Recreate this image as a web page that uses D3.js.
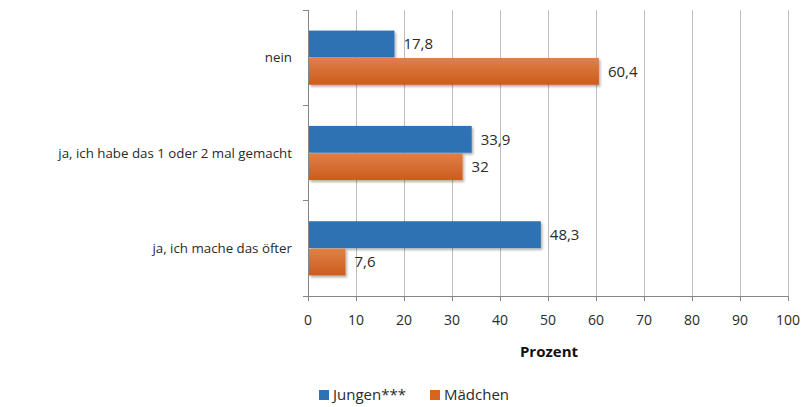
<!DOCTYPE html>
<html>
<head>
<meta charset="utf-8">
<script src="https://cdn.jsdelivr.net/npm/d3@7"></script>
<style>
  body { margin: 0; background: #fff; }
  text { font-family: "Open Sans", sans-serif; fill: #2a2a2a; }
</style>
</head>
<body>
<svg width="809" height="407"></svg>
<script>
const categories = ['nein', 'ja, ich habe das 1 oder 2 mal gemacht', 'ja, ich mache das öfter'];
const seriesNames = ['Jungen***', 'Mädchen'];
const jungen = [17.8, 33.9, 48.3];
const maedchen = [60.4, 32, 7.6];
const xTicks = [0, 10, 20, 30, 40, 50, 60, 70, 80, 90, 100];
const colors = ['#2e72b3', '#d7641f'];

const svg = d3.select('svg');
const plotL = 308, plotR = 788, plotT = 10, plotB = 296;

const x = d3.scaleLinear().domain([0, 100]).range([plotL, plotR]);
const y = d3.scaleBand().domain(categories).range([plotT, plotB]).paddingInner(0.42).paddingOuter(0.21);
const ySub = d3.scaleBand().domain(seriesNames).range([0, y.bandwidth()]).padding(0.02);

const defs = svg.append('defs');
const og = defs.append('linearGradient').attr('id', 'og').attr('x1', 0).attr('y1', 0).attr('x2', 0).attr('y2', 1);
og.append('stop').attr('offset', '0%').attr('stop-color', '#e07f48');
og.append('stop').attr('offset', '100%').attr('stop-color', '#cc5c1c');
const shadow = defs.append('filter').attr('id', 'sh').attr('x', '-5%').attr('y', '-20%').attr('width', '115%').attr('height', '150%');
shadow.append('feDropShadow').attr('dx', 1.5).attr('dy', 2).attr('stdDeviation', 1.2).attr('flood-color', '#000').attr('flood-opacity', 0.3);

// gridlines
svg.append('g')
    .selectAll('line')
    .data(xTicks.slice(1))
    .enter()
    .append('line')
    .attr('x1', d => x(d)).attr('x2', d => x(d))
    .attr('y1', plotT).attr('y2', plotB)
    .attr('stroke', '#bdbdbd').attr('stroke-width', 1)
    .attr('shape-rendering', 'crispEdges');

// bars
const rows = categories.map((c, i) => ({ cat: c, values: [jungen[i], maedchen[i]] }));
const groups = svg.append('g')
    .selectAll('g')
    .data(rows)
    .enter()
    .append('g')
    .attr('transform', d => `translate(0,${y(d.cat)})`);

groups.selectAll('rect')
    .data(d => d.values.map((v, j) => ({ name: seriesNames[j], value: v, j })))
    .enter()
    .append('rect')
    .attr('x', x(0) + 1)
    .attr('y', d => ySub(d.name))
    .attr('width', d => x(d.value) - x(0))
    .attr('height', ySub.bandwidth())
    .attr('fill', d => d.j === 0 ? colors[0] : 'url(#og)')
    .attr('filter', 'url(#sh)');

groups.selectAll('text.val')
    .data(d => d.values.map((v, j) => ({ name: seriesNames[j], value: v })))
    .enter()
    .append('text')
    .attr('class', 'val')
    .attr('x', d => x(d.value) + 10)
    .attr('y', d => ySub(d.name) + ySub.bandwidth() / 2)
    .attr('dy', '0.35em')
    .style('font-size', '15px')
    .text(d => String(d.value).replace('.', ','));

// axes
const axisColor = '#868686';
svg.append('line')
    .attr('x1', plotL).attr('x2', plotL).attr('y1', plotT).attr('y2', plotB)
    .attr('stroke', axisColor).attr('shape-rendering', 'crispEdges');
svg.append('line')
    .attr('x1', plotL).attr('x2', plotR).attr('y1', plotB).attr('y2', plotB)
    .attr('stroke', axisColor).attr('shape-rendering', 'crispEdges');

// category ticks (boundaries)
const catEdges = d3.range(categories.length + 1).map(i => plotT + i * (plotB - plotT) / categories.length);
svg.append('g')
    .selectAll('line')
    .data(catEdges)
    .enter()
    .append('line')
    .attr('x1', plotL - 5).attr('x2', plotL)
    .attr('y1', d => d).attr('y2', d => d)
    .attr('stroke', axisColor).attr('shape-rendering', 'crispEdges');

svg.append('g')
    .selectAll('line')
    .data(xTicks)
    .enter()
    .append('line')
    .attr('x1', d => x(d)).attr('x2', d => x(d))
    .attr('y1', plotB).attr('y2', plotB + 5)
    .attr('stroke', axisColor).attr('shape-rendering', 'crispEdges');

svg.append('g')
    .selectAll('text')
    .data(xTicks)
    .enter()
    .append('text')
    .attr('x', d => x(d))
    .attr('y', 320)
    .attr('dy', '0.35em')
    .attr('text-anchor', 'middle')
    .style('font-size', '14px')
    .text(d => d);

svg.append('g')
    .selectAll('text')
    .data(categories)
    .enter()
    .append('text')
    .attr('x', 292)
    .attr('y', d => y(d) + y.bandwidth() / 2)
    .attr('dy', '0.35em')
    .attr('text-anchor', 'end')
    .style('font-size', '13.3px')
    .text(d => d);

svg.append('text')
    .attr('x', 549)
    .attr('y', 352)
    .attr('dy', '0.35em')
    .attr('text-anchor', 'middle')
    .style('font-size', '15px')
    .style('font-weight', 'bold')
    .style('fill', '#111')
    .text('Prozent');

// legend
const legendX = [319, 430];
const legend = svg.append('g')
    .selectAll('g')
    .data(seriesNames)
    .enter()
    .append('g')
    .attr('transform', (d, i) => `translate(${legendX[i]},395)`);
legend.append('rect')
    .attr('x', 0).attr('y', -5).attr('width', 10).attr('height', 10)
    .attr('fill', (d, i) => colors[i]);
legend.append('text')
    .attr('x', 14)
    .attr('dy', '0.35em')
    .style('font-size', '15px')
    .text(d => d);
</script>
</body>
</html>
